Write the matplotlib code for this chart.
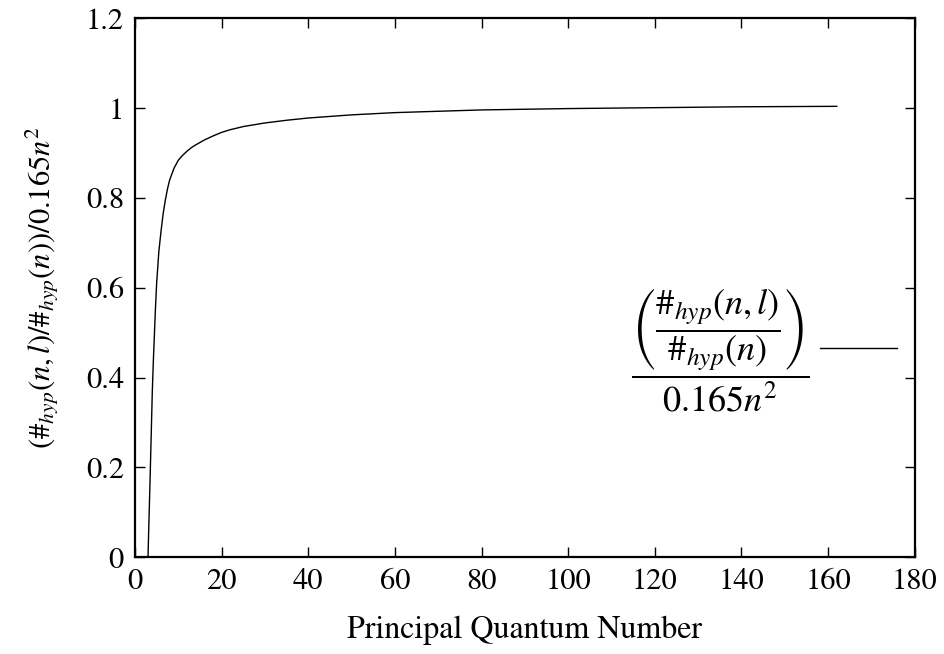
import matplotlib
matplotlib.use("Agg")
import numpy as np
import matplotlib.pyplot as plt

plt.rcParams['font.family'] = ['STIXGeneral', 'DejaVu Serif']
plt.rcParams['mathtext.fontset'] = 'stix'

# values
n = [3, 3.5, 4, 4.25, 4.5, 4.75, 5, 5.5, 6, 6.5, 7, 7.5, 8, 9, 10, 11, 12, 13, 14,
     16, 18, 20, 22, 25, 30, 35, 40, 50, 60, 70, 80, 100, 120, 140, 162]
ratio = [0, 0.18, 0.37, 0.44, 0.50, 0.56, 0.61, 0.68, 0.725, 0.765, 0.795, 0.82,
         0.84, 0.866, 0.884, 0.895, 0.904, 0.912, 0.918, 0.929, 0.938, 0.946,
         0.952, 0.959, 0.967, 0.973, 0.978, 0.985, 0.990, 0.993, 0.996, 0.999,
         1.001, 1.003, 1.004]

xticks = [0, 20, 40, 60, 80, 100, 120, 140, 160, 180]
yticks = [0, 0.2, 0.4, 0.6, 0.8, 1.0, 1.2]
ytick_labels = ['0', '0.2', '0.4', '0.6', '0.8', '1', '1.2']

legend_label = (r'$\dfrac{\left(\dfrac{\#_{hyp}(n,l)}{\#_{hyp}(n)}\right)}'
                r'{0.165n^2}$')

fig = plt.figure(figsize=(9.44, 6.54), dpi=100)
ax = fig.add_axes([0.143, 0.148, 0.826, 0.824])

ax.plot(n, ratio, color='black', lw=1.0)

ax.set_xlim(0, 180)
ax.set_ylim(0, 1.2)
ax.set_xticks(xticks)
ax.set_yticks(yticks)
ax.set_yticklabels(ytick_labels)
ax.tick_params(direction='in', length=7, width=1.0, top=True, right=True,
               labelsize=22, pad=8)
for s in ax.spines.values():
    s.set_linewidth(1.6)

ax.set_xlabel('Principal Quantum Number', fontsize=23, labelpad=14)
ax.set_ylabel(r'$(\#_{hyp}(n,l)/\#_{hyp}(n))/0.165n^2$', fontsize=22, labelpad=18)

# gnuplot-style key: label on the left, line sample on the right
ax.text(0.865, 0.385, legend_label, transform=ax.transAxes, ha='right',
        va='center', fontsize=26)
ax.plot([0.878, 0.977], [0.388, 0.388], transform=ax.transAxes,
        color='black', lw=1.0)

fig.savefig('out.png', dpi=100)
